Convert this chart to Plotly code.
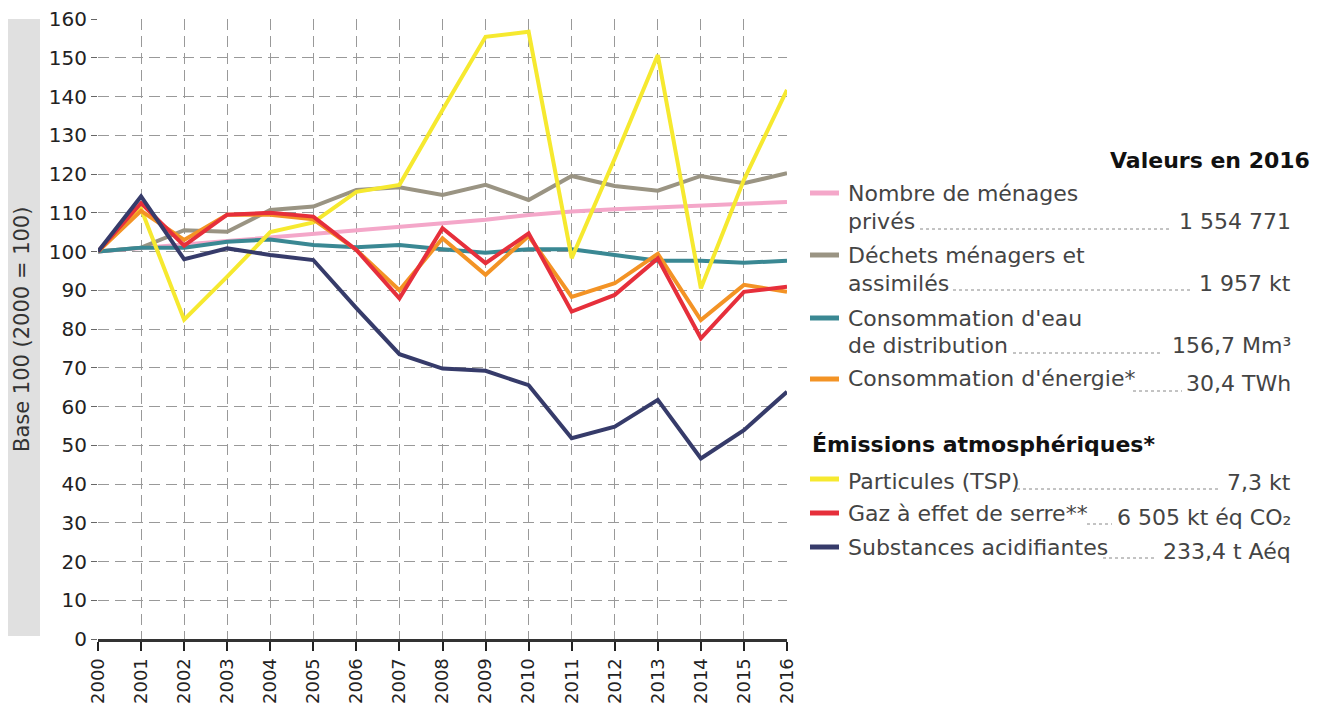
import plotly.graph_objects as go

years = list(range(2000, 2017))

menages = [100, 100.8, 101.8, 102.7, 103.6, 104.5, 105.5, 106.4, 107.4, 108.2, 109.4, 110.3, 110.9, 111.3, 111.8, 112.3, 112.8]
dechets = [100, 101.0, 105.5, 105.1, 110.7, 111.6, 115.9, 116.6, 114.6, 117.2, 113.3, 119.5, 116.9, 115.7, 119.5, 117.6, 120.2]
eau = [100, 101.0, 101.0, 102.5, 103.1, 101.7, 101.1, 101.7, 100.6, 99.7, 100.6, 100.6, 99.1, 97.6, 97.6, 97.1, 97.6]
energie = [100, 110.5, 103.0, 109.5, 109.5, 108.3, 100.4, 90.0, 103.4, 94.0, 104.0, 88.3, 91.8, 99.4, 82.3, 91.4, 89.6]
particules = [100, 111.0, 82.4, 93.5, 105.0, 107.5, 115.4, 117.2, 136.5, 155.4, 156.7, 98.3, 124.0, 150.7, 90.5, 118.5, 141.7]
ges = [100, 112.5, 101.5, 109.5, 110.0, 109.0, 100.4, 87.9, 106.0, 97.0, 104.7, 84.5, 88.8, 98.2, 77.6, 89.6, 90.9]
acid = [100, 114.2, 98.0, 100.8, 99.1, 97.8, 85.4, 73.5, 69.8, 69.2, 65.5, 51.8, 54.8, 61.7, 46.6, 53.9, 63.8]

series_names = ["Nombre de ménages privés", "Déchets ménagers et assimilés",
                "Consommation d'eau de distribution", "Consommation d'énergie*",
                "Particules (TSP)", "Gaz à effet de serre**", "Substances acidifiantes"]
series_values = [menages, dechets, eau, energie, particules, ges, acid]
series_colors = ["#f4a7c9", "#9a9483", "#3a8893", "#f39325", "#f6e92f", "#e62f3b", "#363b6a"]

legend_values = ["1 554 771", "1 957 kt", "156,7 Mm³", "30,4 TWh", "7,3 kt", "6 505 kt éq CO₂", "233,4 t Aéq"]
y_ticks = list(range(0, 161, 10))

# page geometry (browser adds an 8px body margin)
OFF = 8
W, H = 1323 - 2 * OFF, 713 - 2 * OFF
L, R, T, B = 98, 787, 19, 639   # plot area in page pixels
FONT = "DejaVu Sans, Verdana, sans-serif"


def px(x):
    return (x - L) / (R - L)


def py(y):
    return (B - y) / (B - T)


fig = go.Figure()
draw_order = [0, 1, 2, 4, 3, 5, 6]
for i in draw_order:
    fig.add_trace(go.Scatter(x=years, y=series_values[i], mode="lines", name=series_names[i],
                             line=dict(color=series_colors[i], width=4), cliponaxis=False,
                             showlegend=False))

shapes = []
annotations = []

# grey band behind y title
shapes.append(dict(type="rect", xref="paper", yref="paper", x0=px(5), x1=px(40), y0=py(636), y1=py(19),
                   fillcolor="#e0e0e0", line=dict(width=0), layer="below"))
annotations.append(dict(text="Base 100 (2000 = 100)", xref="paper", yref="paper", x=px(22), y=py(330),
                        textangle=-90, showarrow=False, xanchor="center", yanchor="middle",
                        font=dict(family=FONT, size=21, color="#333333")))

# legend
text_color = "#444444"
fs = 22
annotations.append(dict(text="<b>Valeurs en 2016</b>", xref="paper", yref="paper", x=px(1312), y=py(161),
                        showarrow=False, xanchor="right", yanchor="middle",
                        font=dict(family=FONT, size=fs, color="#111111")))
annotations.append(dict(text="<b>Émissions atmosphériques*</b>", xref="paper", yref="paper", x=px(810), y=py(444),
                        showarrow=False, xanchor="left", yanchor="middle",
                        font=dict(family=FONT, size=fs, color="#111111")))

legend_lines = [
    (["Nombre de ménages", "privés"], 193, [194, 221], 221, (920, 1172, 229)),
    (["Déchets ménagers et", "assimilés"], 255, [256, 283], 283, (953, 1190, 290)),
    (["Consommation d'eau", "de distribution"], 318, [318, 345], 345, (1013, 1163, 353)),
    (["Consommation d'énergie*"], 379, [379], 383, (1133, 1182, 391)),
    (["Particules (TSP)"], 479, [481], 482, (1017, 1218, 489)),
    (["Gaz à effet de serre**"], 513, [513], 517, (1087, 1112, 524)),
    (["Substances acidifiantes"], 547, [547], 551, (1103, 1155, 558)),
]
for i, (texts, ly, tys, vy, lead) in enumerate(legend_lines):
    shapes.append(dict(type="line", xref="paper", yref="paper", x0=px(810), x1=px(839), y0=py(ly), y1=py(ly),
                       line=dict(color=series_colors[i], width=5)))
    for t, ty in zip(texts, tys):
        annotations.append(dict(text=t, xref="paper", yref="paper", x=px(846), y=py(ty), showarrow=False,
                                xanchor="left", yanchor="middle",
                                font=dict(family=FONT, size=fs, color=text_color)))
    annotations.append(dict(text=legend_values[i], xref="paper", yref="paper", x=px(1293), y=py(vy),
                            showarrow=False, xanchor="right", yanchor="middle",
                            font=dict(family=FONT, size=fs, color=text_color)))
    shapes.append(dict(type="line", xref="paper", yref="paper", x0=px(lead[0]), x1=px(lead[1]),
                       y0=py(lead[2]), y1=py(lead[2]), line=dict(color="#888888", width=1, dash="dot")))

grid_dash = "11px,6px"
fig.update_layout(
    width=W, height=H,
    margin=dict(l=L - OFF, r=W - (R - OFF), t=T - OFF, b=H - (B - OFF), pad=0, autoexpand=False),
    paper_bgcolor="white", plot_bgcolor="white",
    shapes=shapes, annotations=annotations,
    font=dict(family=FONT, size=18, color="#222222"),
    xaxis=dict(range=[2000, 2016], tickmode="array", tickvals=years, ticktext=[str(y) for y in years],
               tickangle=-90, ticks="outside", ticklen=9, tickwidth=2, tickcolor="#222222",
               showline=True, linecolor="#333333", linewidth=3, automargin=False,
               ticklabeloverflow="allow",
               showgrid=True, gridcolor="#999999", gridwidth=1, griddash=grid_dash,
               zeroline=False, tickfont=dict(family=FONT, size=18, color="#222222")),
    yaxis=dict(range=[0, 160], tickmode="array", tickvals=y_ticks, ticks="outside", ticklen=6,
               tickcolor="#666666", showline=False, automargin=False,
               ticklabeloverflow="allow",
               showgrid=True, gridcolor="#999999", gridwidth=1, griddash=grid_dash,
               zeroline=False, tickfont=dict(family=FONT, size=20, color="#222222")),
)

fig.write_html("out.html")
